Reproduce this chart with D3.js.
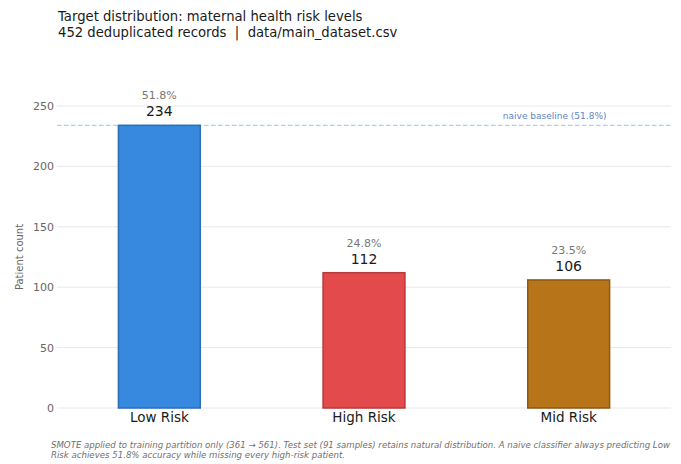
<!DOCTYPE html>
<html>
<head>
<meta charset="utf-8">
<script src="https://cdn.jsdelivr.net/npm/d3@7"></script>
<style>
  html, body { margin: 0; padding: 0; background: #fff; }
  svg { display: block; font-family: "DejaVu Sans", sans-serif; }
  text { white-space: pre; }
</style>
</head>
<body>
<svg id="chart" width="681" height="464"></svg>
<script>
// Class counts in the deduplicated dataset
const categories = ["Low Risk", "High Risk", "Mid Risk"];
const counts = [234, 112, 106];
const shares = ["51.8%", "24.8%", "23.5%"];
const fillColors = ["#3689de", "#e34a4b", "#b87418"];
const edgeColors = ["#2a6fb8", "#b8393a", "#8e5812"];
const yTicks = [0, 50, 100, 150, 200, 250];
const baselineValue = 234;
const baselineLabel = "naive baseline (51.8%)";
const titleLines = [
  "Target distribution: maternal health risk levels",
  "452 deduplicated records  |  data/main_dataset.csv"
];
const footnoteLines = [
  "SMOTE applied to training partition only (361 \u2192 561). Test set (91 samples) retains natural distribution. A naive classifier always predicting Low",
  "Risk achieves 51.8% accuracy while missing every high-risk patient."
];

const svg = d3.select("#chart");
const plot = { left: 57, right: 671, top: 60, bottom: 408 };

const x = d3.scalePoint().domain(categories).range([plot.left, plot.right]).padding(0.5);
const y = d3.scaleLinear().domain([0, 250]).range([plot.bottom, 106]);
const barWidth = x.step() * 0.4;

// Title
svg.append("g").selectAll("text").data(titleLines).join("text")
  .attr("x", 58).attr("y", (d, i) => 21 + i * 15.5)
  .attr("font-size", 13.2).attr("fill", "#1a1a1a")
  .text(d => d);

// Horizontal grid and y tick labels
const yAxis = svg.append("g");
yAxis.selectAll("line").data(yTicks).join("line")
  .attr("x1", plot.left).attr("x2", plot.right)
  .attr("y1", d => y(d)).attr("y2", d => y(d))
  .attr("stroke", "#e8e8e8").attr("stroke-width", 1);
yAxis.selectAll("text").data(yTicks).join("text")
  .attr("x", 54).attr("y", d => y(d) + 4)
  .attr("text-anchor", "end").attr("font-size", 11).attr("fill", "#666")
  .text(d => d);

svg.append("text")
  .attr("transform", `translate(23,${(y(0) + y(250)) / 2}) rotate(-90)`)
  .attr("text-anchor", "middle").attr("font-size", 10).attr("fill", "#666")
  .text("Patient count");

// Naive baseline (behind the bars)
svg.append("line")
  .attr("x1", plot.left).attr("x2", plot.right)
  .attr("y1", y(baselineValue)).attr("y2", y(baselineValue))
  .attr("stroke", "#a6d0f5").attr("stroke-width", 1.3)
  .attr("stroke-dasharray", "4.5,2.5");
svg.append("text")
  .attr("x", x(categories[2]) - 14).attr("y", y(baselineValue) - 6)
  .attr("text-anchor", "middle").attr("font-size", 9).attr("fill", "#5b86bf")
  .text(baselineLabel);

// Bars
svg.append("g").selectAll("rect").data(counts).join("rect")
  .attr("x", (d, i) => x(categories[i]) - barWidth / 2)
  .attr("y", d => y(d))
  .attr("width", barWidth)
  .attr("height", d => y(0) - y(d))
  .attr("fill", (d, i) => fillColors[i])
  .attr("stroke", (d, i) => edgeColors[i])
  .attr("stroke-width", 1.5);

// Value and share labels
const labels = svg.append("g");
labels.selectAll("text.count").data(counts).join("text")
  .attr("class", "count")
  .attr("x", (d, i) => x(categories[i])).attr("y", d => y(d) - 9)
  .attr("text-anchor", "middle").attr("font-size", 14).attr("fill", "#1a1a1a")
  .text(d => d);
labels.selectAll("text.share").data(counts).join("text")
  .attr("class", "share")
  .attr("x", (d, i) => x(categories[i])).attr("y", d => y(d) - 26)
  .attr("text-anchor", "middle").attr("font-size", 11).attr("fill", "#777")
  .text((d, i) => shares[i]);

// Category labels
svg.append("g").selectAll("text").data(categories).join("text")
  .attr("x", d => x(d)).attr("y", 422)
  .attr("text-anchor", "middle").attr("font-size", 13.5).attr("fill", "#1a1a1a")
  .text(d => d);

// Footnote
svg.append("g").selectAll("text").data(footnoteLines).join("text")
  .attr("x", 51).attr("y", (d, i) => 448 + i * 10)
  .attr("font-size", 8.6).attr("font-style", "italic").attr("fill", "#707070")
  .text(d => d);
</script>
</body>
</html>
